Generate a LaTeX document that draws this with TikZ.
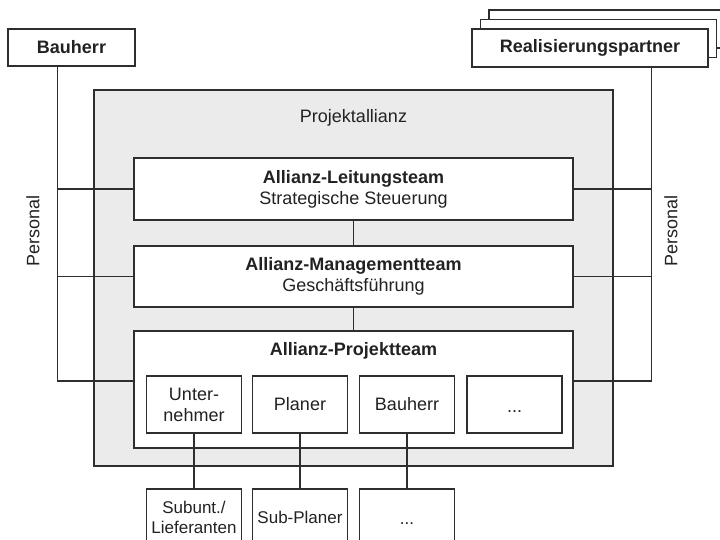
\documentclass[tikz,border=0pt]{standalone}
\usepackage{fontspec}
\setmainfont{Liberation Sans}
\definecolor{ln}{HTML}{2E2E2E}
\definecolor{tx}{HTML}{222222}
\definecolor{allianz}{HTML}{EBEBEB}
\newcommand\fsbig{\fontsize{18}{21}\selectfont}
\newcommand\fssmall{\fontsize{17}{20}\selectfont}
\begin{document}
\begin{tikzpicture}[x=1pt,y=-1pt,line width=1.4pt,
  conn/.style={draw=ln,line width=1.4pt},
  box/.style={draw=ln,line width=1.4pt,fill=white,rectangle,inner sep=0pt,
    align=center,text=tx,font=\fsbig},
  teambox/.style={box,minimum width=439pt},
  subbox/.style={box,minimum width=95pt,minimum height=57pt},
  lowbox/.style={box,minimum width=95pt,minimum height=57pt,font=\fssmall},
  lbl/.style={text=tx,font=\fsbig,inner sep=0pt}]
\clip (0,0) rectangle (720,539);

% outer frame of the alliance
\node[draw=ln,fill=allianz,rectangle,inner sep=0pt,minimum width=519pt,
  minimum height=376pt] (pa) at (353.5,278) {};
\node[lbl] (patitle) at (353.5,118) {Projektallianz};

% external parties
\node[box,font=\fsbig\bfseries,minimum width=127pt,minimum height=37pt]
  (bh) at (71.5,47.5) {Bauherr};
\node[box,minimum width=236pt,minimum height=38pt] (rp3) at (607,29) {};
\node[box,minimum width=236pt,minimum height=38pt] (rp2) at (598.5,38.5) {};
\node[box,font=\fsbig\bfseries,minimum width=236pt,minimum height=38pt]
  (rp) at (590,48) {Realisierungspartner};

% team levels
\node[teambox,minimum height=62pt] (lt) at (353.5,189)
  {\textbf{Allianz-Leitungsteam}\\Strategische Steuerung};
\node[teambox,minimum height=61pt] (mt) at (353.5,276.5)
  {\textbf{Allianz-Managementteam}\\Geschäftsführung};
\node[teambox,minimum height=117pt] (pt) at (353.5,389.5) {};
\node[lbl,font=\fsbig\bfseries] (pttitle) at (353.5,351) {Allianz-Projektteam};

% members of the project team
\node[subbox] (un) at (194,404.5) {Unter-\\nehmer};
\node[subbox] (pl) at (300,404.5) {Planer};
\node[subbox] (ba) at (407,404.5) {Bauherr};
\node[subbox] (mo) at (514.5,404.5) {};
\node[lbl,anchor=base] (modots) at (514.5,412) {...};

% second tier
\node[lowbox] (su) at (194,517.5) {Subunt./\\Lieferanten};
\node[lowbox] (sp) at (300,517.5) {Sub-Planer};
\node[lowbox] (sm) at (407,517.5) {};
\node[lbl,font=\fssmall,anchor=base] (smdots) at (407,524) {...};

% staff lines
\coordinate (lc) at (57.5,381);
\coordinate (rc) at (651.5,381);
\draw[conn] (bh.south -| lc) -- (lc) -- (pt.west |- lc);
\draw[conn] (lt.west) -- (lt.west -| lc);
\draw[conn] (mt.west) -- (mt.west -| lc);
\draw[conn] (rp.south -| rc) -- (rc) -- (pt.east |- rc);
\draw[conn] (lt.east) -- (lt.east -| rc);
\draw[conn] (mt.east) -- (mt.east -| rc);
\node[lbl,rotate=90] (psl) at (33,231) {Personal};
\node[lbl,rotate=90] (psr) at (671,231) {Personal};

% hierarchy links
\draw[conn] (lt.south) -- (mt.north);
\draw[conn] (mt.south) -- (pt.north);
\draw[conn] (un.south) -- (su.north);
\draw[conn] (pl.south) -- (sp.north);
\draw[conn] (ba.south) -- (sm.north);
\end{tikzpicture}
\end{document}
